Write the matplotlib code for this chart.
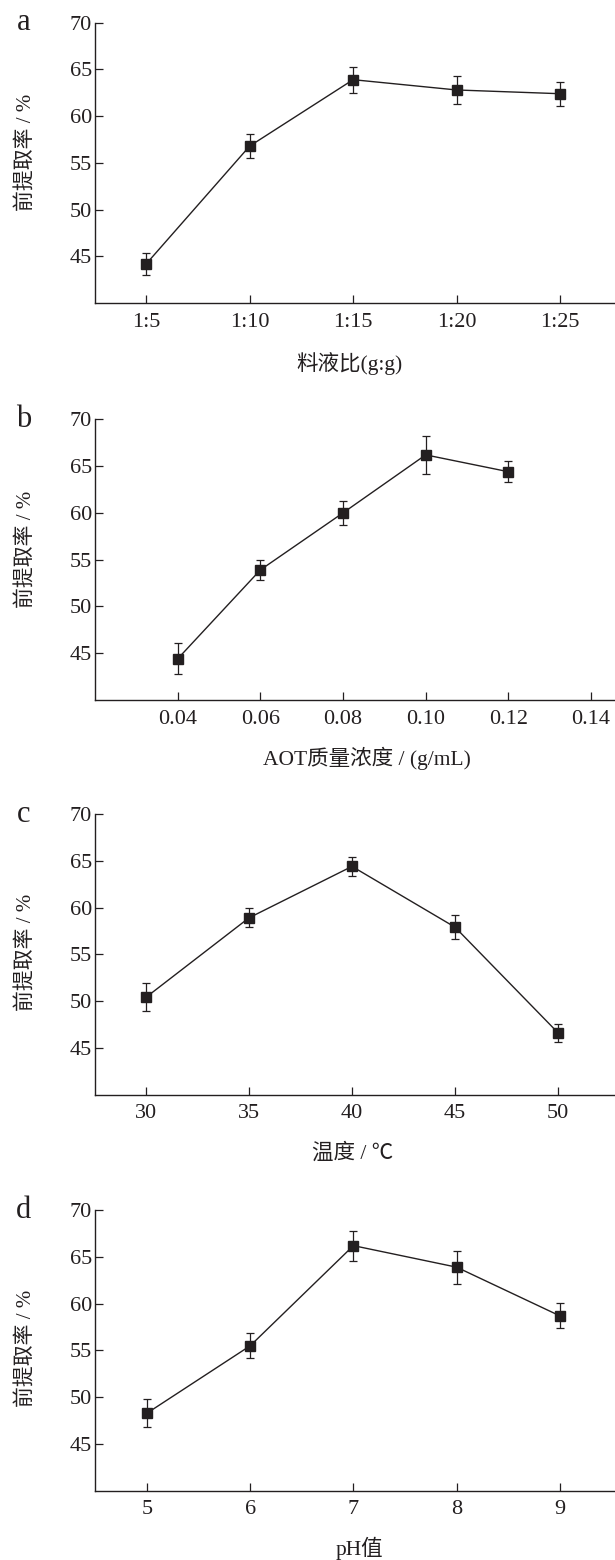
import matplotlib
matplotlib.use('Agg')
import matplotlib.pyplot as plt

plt.rcParams['font.family'] = ['Liberation Serif', 'Noto Sans CJK SC']
plt.rcParams['mathtext.fontset'] = 'stix'

# single-factor tests: extraction rate (%) with std. dev.
ratio_labels = ['1:5', '1:10', '1:15', '1:20', '1:25']
ratio_rate = [44.2, 56.8, 63.9, 62.8, 62.4]
ratio_err = [1.2, 1.3, 1.4, 1.5, 1.3]

aot_conc = [0.04, 0.06, 0.08, 0.10, 0.12]
aot_rate = [44.4, 53.9, 60.0, 66.2, 64.4]
aot_err = [1.65, 1.05, 1.3, 2.0, 1.15]

temp = [30, 35, 40, 45, 50]
temp_rate = [50.4, 58.9, 64.4, 57.9, 46.6]
temp_err = [1.5, 1.0, 1.05, 1.3, 0.95]

ph = [5, 6, 7, 8, 9]
ph_rate = [48.3, 55.5, 66.2, 63.9, 58.7]
ph_err = [1.5, 1.35, 1.6, 1.75, 1.35]

ink = '#231f20'
fig = plt.figure(figsize=(6.15, 15.6), dpi=100)

panels = [
    # letter, x, y, err, xlim, xticks, xticklabels, xlabel, bottom, xlab_xy, ylab_y
    ('a', [1, 2, 3, 4, 5], ratio_rate, ratio_err, (0.506, 5.53), [1, 2, 3, 4, 5], ratio_labels,
     '料液比(g:g)', 0.8056, (0.489, -0.213), 0.539),
    ('b', aot_conc, aot_rate, aot_err, (0.02, 0.1458), [0.04, 0.06, 0.08, 0.10, 0.12, 0.14],
     ['0.04', '0.06', '0.08', '0.10', '0.12', '0.14'],
     'AOT质量浓度 / (g/mL)', 0.5513, (0.522, -0.207), 0.538),
    ('c', temp, temp_rate, temp_err, (27.53, 52.76), temp, [str(t) for t in temp],
     '温度 / ℃', 0.2983, (0.496, -0.208), 0.508),
    ('d', ph, ph_rate, ph_err, (4.495, 9.536), ph, [str(p) for p in ph],
     'pH值', 0.0444, (0.508, -0.204), 0.509),
]

for letter, x, y, err, xlim, xt, xtl, xlabel, bottom, xlab_xy, ylab_y in panels:
    ax = fig.add_axes([0.1545, bottom, 0.8455, 0.1799])
    ax.errorbar(x, y, yerr=err, color=ink, lw=1.0, marker='s', ms=7,
                mfc=ink, mec=ink, ecolor=ink, elinewidth=0.9, capsize=3, capthick=0.9)
    ax.set_xlim(*xlim)
    ax.set_ylim(40, 70)
    ax.set_yticks([45, 50, 55, 60, 65, 70])
    ax.set_xticks(xt)
    ax.set_xticklabels(xtl)
    for side in ('top', 'right'):
        ax.spines[side].set_visible(False)
    for side in ('left', 'bottom'):
        ax.spines[side].set_color(ink)
        ax.spines[side].set_linewidth(1.0)
    ax.tick_params(axis='both', direction='in', length=5.5, width=0.9, color=ink,
                   labelsize=16, labelcolor=ink)
    ax.tick_params(axis='x', pad=7)
    ax.tick_params(axis='y', pad=2)
    ax.set_xlabel(xlabel, fontsize=15.5, color=ink, va='center')
    ax.xaxis.set_label_coords(*xlab_xy)
    ax.set_ylabel('前提取率 / %', fontsize=15, color=ink, va='center')
    ax.yaxis.set_label_coords(-0.134, ylab_y)
    ax.text(-0.137, 1.0, letter, transform=ax.transAxes, fontsize=22, color=ink,
            ha='center', va='center')

fig.savefig('out.png', dpi=100)
